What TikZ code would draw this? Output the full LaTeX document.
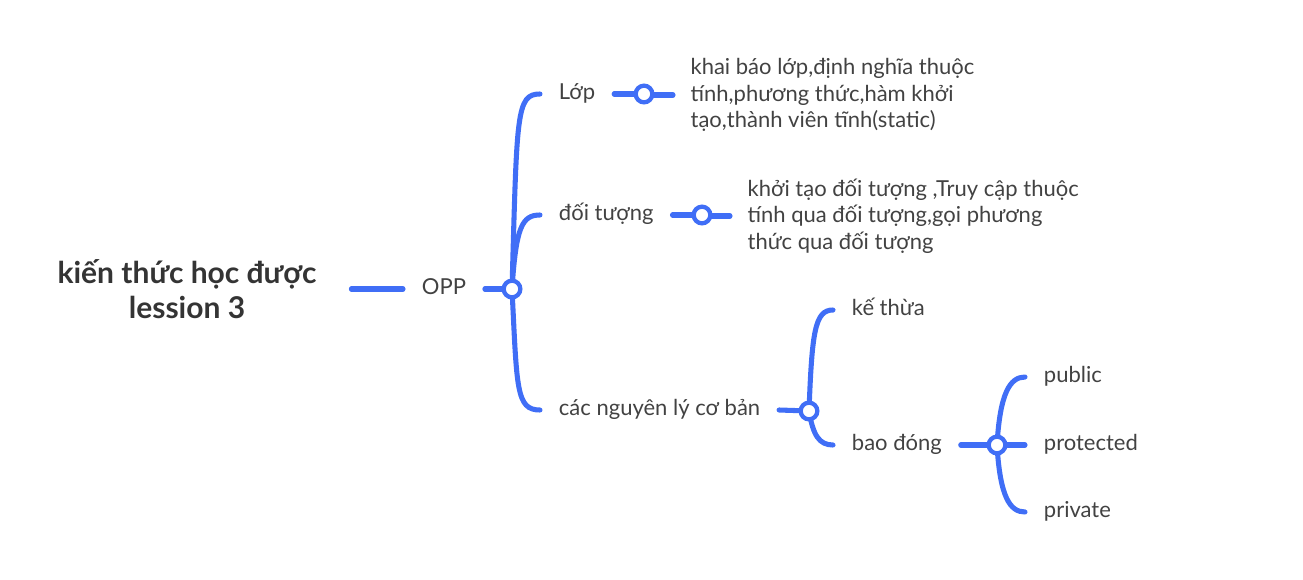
\documentclass[tikz,border=0pt]{standalone}
\usepackage{fontspec}
\setmainfont{Lato}
\usepackage{tikz}
\usetikzlibrary{calc}
\pgfdeclarelayer{bg}
\pgfsetlayers{bg,main}
\definecolor{branchblue}{RGB}{64,110,246}
\definecolor{textgray}{RGB}{66,66,66}
\definecolor{rootgray}{RGB}{52,52,52}

\begin{document}
\begin{tikzpicture}[x=0.75pt,y=-0.75pt,
    topic/.style={anchor=west,text=textgray,font=\fontsize{16.5}{20}\selectfont,
      inner xsep=14pt,inner ysep=0pt,text height=0.8em,text depth=0pt},
    desc/.style={anchor=west,text=textgray,font=\fontsize{16.5}{20}\selectfont,
      inner xsep=13pt,inner ysep=0pt,align=left},
    knot/.style={circle,draw=branchblue,fill=white,line width=3.2pt,
      minimum size=12.5pt,inner sep=0pt},
    branch/.style={draw=branchblue,line width=3.8pt,line cap=round}]
          \useasboundingbox (0,0) rectangle (1303,579);
          \path
            coordinate (p0) at (512,289)
            coordinate (p1) at (644,94)
            coordinate (p2) at (702,215)
            coordinate (p3) at (809,411)
            coordinate (p4) at (997,445);
          \node[text=rootgray,font=\fontsize{22.5}{26.5}\selectfont\bfseries,align=center,
            inner xsep=26pt] (root) at (187,289) {kiến thức học được\\lession 3};
          \node[topic] (opp) at (403,289) {OPP};
          \node[topic] (lop) at (540,94) {Lớp};
          \node[topic] (doituong) at (540,215) {đối tượng};
          \node[topic] (nguyenly) at (540,410) {các nguyên lý cơ bản};
          \node[desc] (lopdesc) at (673,95)
            {khai báo lớp,định nghĩa thuộc\\tính,phương thức,hàm khởi\\tạo,thành viên tĩnh(static)};
          \node[desc] (dtdesc) at (730,216)
            {khởi tạo đối tượng ,Truy cập thuộc\\tính qua đối tượng,gọi phương\\thức qua đối tượng};
          \node[topic] (kethua) at (833,310) {kế thừa};
          \node[topic] (baodong) at (833,445) {bao đóng};
          \node[topic] (public) at (1025,377) {public};
          \node[topic] (protected) at (1025,445) {protected};
          \node[topic] (private) at (1025,512) {private};
          \node[knot] (k0) at (p0) {};
          \node[knot] (k1) at (p1) {};
          \node[knot] (k2) at (p2) {};
          \node[knot] (k3) at (p3) {};
          \node[knot] (k4) at (p4) {};
          \begin{pgfonlayer}{bg}
          \draw[branch] (root.east) -- (opp.west);
          \draw[branch] (opp.east) -- (k0.center);
          \draw[branch] (k0.center) .. controls +(5,-175) and +(-24,0) .. (lop.west);
          \draw[branch] (k0.center) .. controls +(4,-62) and +(-18,0) .. (doituong.west);
          \draw[branch] (k0.center) .. controls +(5,100) and +(-24,0) .. (nguyenly.west);
          \draw[branch] (lop.east) -- (k1.center) -- (lopdesc.west -| k1.center) -- (lopdesc.west);
          \draw[branch] (doituong.east) -- (k2.center) -- (dtdesc.west -| k2.center) -- (dtdesc.west);
          \draw[branch] (nguyenly.east) -- (k3.center);
          \draw[branch] (k3.center) .. controls +(3,-80) and +(-18,0) .. (kethua.west);
          \draw[branch] (k3.center) .. controls +(4,24) and +(-14,0) .. (baodong.west);
          \draw[branch] (baodong.east) -- (k4.center) -- (protected.west);
          \draw[branch] (k4.center) .. controls +(3,-52) and +(-15,0) .. (public.west);
          \draw[branch] (k4.center) .. controls +(3,52) and +(-15,0) .. (private.west);
          \end{pgfonlayer}
        \end{tikzpicture}
\end{document}
